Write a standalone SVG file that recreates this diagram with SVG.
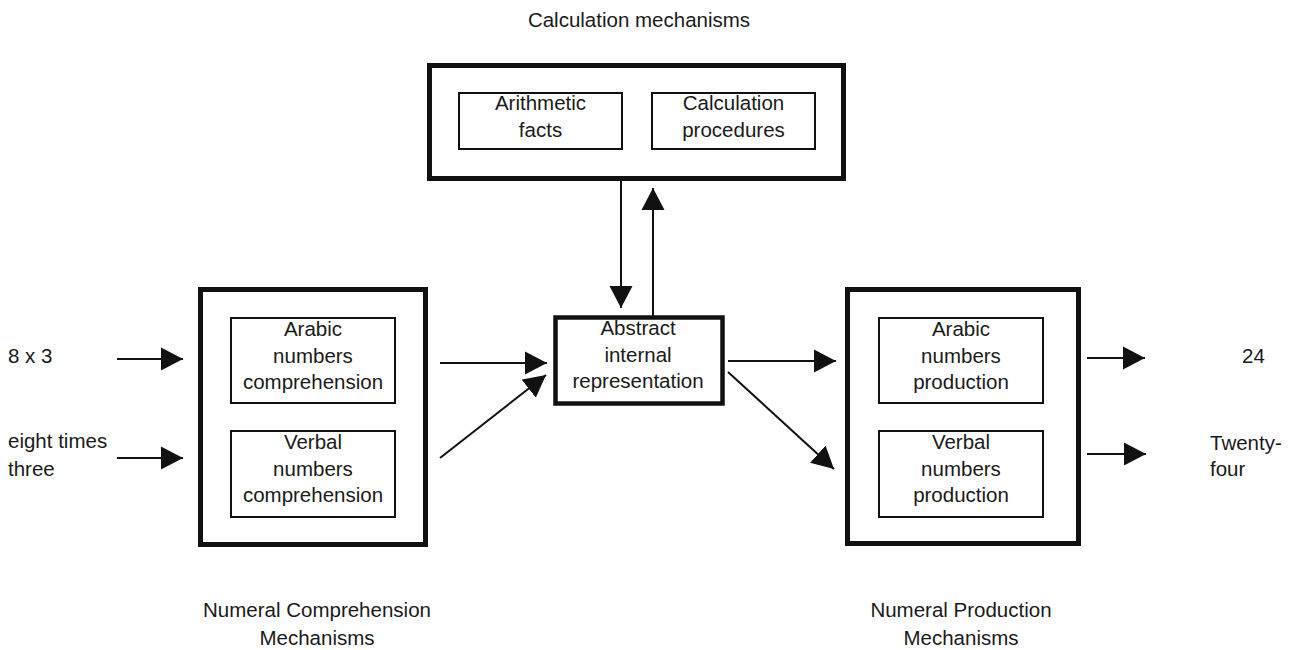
<svg xmlns="http://www.w3.org/2000/svg" width="1299" height="650" viewBox="0 0 1299 650">
<style>
text{font-family:"Liberation Sans",Arial,sans-serif;font-size:20.5px;fill:#1a1a1a}
.c{text-anchor:middle}
.outer{fill:none;stroke:#111;stroke-width:5}
.inner{fill:none;stroke:#111;stroke-width:2}
.mid{fill:none;stroke:#111;stroke-width:4.5}
.arr{stroke:#111;stroke-width:2;fill:none;marker-end:url(#ah)}
</style>
<defs>
<marker id="ah" markerUnits="userSpaceOnUse" markerWidth="22" markerHeight="24" viewBox="0 0 21 22" refX="21" refY="11" orient="auto">
<path d="M0,0 L21,11 L0,22 z" fill="#111"/>
</marker>
</defs>
<rect width="1299" height="650" fill="#fff"/>
<g id="title-calc"><text class="c" x="639" y="27">Calculation mechanisms</text></g>
<g id="calc">
<rect class="outer" x="429.5" y="65.5" width="414" height="113"/>
<g id="arith"><rect class="inner" x="459" y="93" width="163" height="56"/>
<text class="c" x="540.5" y="110">Arithmetic</text><text class="c" x="540.5" y="137">facts</text></g>
<g id="procs"><rect class="inner" x="652" y="93" width="163" height="56"/>
<text class="c" x="733.5" y="110">Calculation</text><text class="c" x="733.5" y="137">procedures</text></g>
</g>
<g id="comp">
<rect class="outer" x="200.5" y="289.5" width="225" height="255"/>
<g id="arabic-comp"><rect class="inner" x="231" y="318" width="164" height="85"/>
<text class="c" x="313" y="336">Arabic</text><text class="c" x="313" y="363">numbers</text><text class="c" x="313" y="389">comprehension</text></g>
<g id="verbal-comp"><rect class="inner" x="231" y="431" width="164" height="86"/>
<text class="c" x="313" y="449">Verbal</text><text class="c" x="313" y="476">numbers</text><text class="c" x="313" y="502">comprehension</text></g>
</g>
<g id="abstract">
<rect class="mid" x="555.5" y="317.5" width="167" height="86"/>
<text class="c" x="638" y="335">Abstract</text><text class="c" x="638" y="362">internal</text><text class="c" x="638" y="388">representation</text>
</g>
<g id="prod">
<rect class="outer" x="847.5" y="289.5" width="231" height="254"/>
<g id="arabic-prod"><rect class="inner" x="879" y="318" width="164" height="85"/>
<text class="c" x="961" y="336">Arabic</text><text class="c" x="961" y="363">numbers</text><text class="c" x="961" y="389">production</text></g>
<g id="verbal-prod"><rect class="inner" x="879" y="431" width="164" height="86"/>
<text class="c" x="961" y="449">Verbal</text><text class="c" x="961" y="476">numbers</text><text class="c" x="961" y="502">production</text></g>
</g>
<g id="in-arabic"><text x="8" y="363">8 x 3</text></g>
<g id="in-verbal"><text x="8" y="448">eight times</text><text x="8" y="476">three</text></g>
<g id="out-arabic"><text x="1242" y="363">24</text></g>
<g id="out-verbal"><text x="1210" y="450">Twenty-</text><text x="1210" y="476">four</text></g>
<g id="label-comp"><text class="c" x="317" y="617">Numeral Comprehension</text><text class="c" x="317" y="645">Mechanisms</text></g>
<g id="label-prod"><text class="c" x="961" y="617">Numeral Production</text><text class="c" x="961" y="645">Mechanisms</text></g>
<g id="connectors">
<line class="arr" x1="117" y1="359" x2="183" y2="359"/>
<line class="arr" x1="117" y1="458" x2="183" y2="458"/>
<line class="arr" x1="440" y1="363" x2="547" y2="363"/>
<line class="arr" x1="440" y1="458" x2="546" y2="375"/>
<line class="arr" x1="621" y1="179" x2="621" y2="308"/>
<line class="arr" x1="653" y1="316" x2="653" y2="188"/>
<line class="arr" x1="728" y1="361" x2="836" y2="361"/>
<line class="arr" x1="728" y1="372" x2="834" y2="469"/>
<line class="arr" x1="1087" y1="358" x2="1145" y2="358"/>
<line class="arr" x1="1087" y1="454" x2="1146" y2="454"/>
</g>
</svg>
